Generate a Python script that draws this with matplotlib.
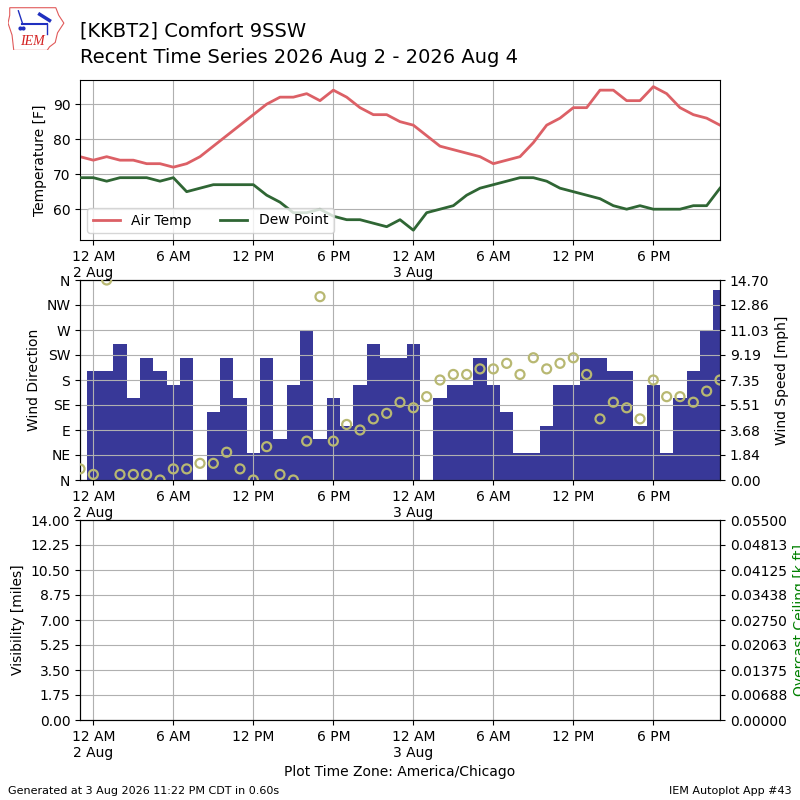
import matplotlib
matplotlib.use("Agg")
import matplotlib.pyplot as plt
import matplotlib.dates as mdates
from matplotlib.ticker import FuncFormatter, FixedLocator
from matplotlib.patches import Polygon
import numpy as np
import pandas as pd
from datetime import datetime
from decimal import Decimal, ROUND_HALF_UP

# ---------------- data ----------------
start = datetime(2026, 8, 1, 23, 0)
times = pd.date_range(start, periods=49, freq="h")

air_temp = [75, 74, 75, 74, 74, 73, 73, 72, 73, 75, 78, 81, 84, 87, 90, 92,
            92, 93, 91, 94, 92, 89, 87, 87, 85,
            84, 81, 78, 77, 76, 75, 73, 74, 75, 79, 84, 86, 89, 89, 94,
            94, 91, 91, 95, 93, 89, 87, 86, 84]
dew_point = [69, 69, 68, 69, 69, 69, 68, 69, 65, 66, 67, 67, 67, 67, 64, 62,
             59, 59, 60, 58, 57, 57, 56, 55, 57,
             54, 59, 60, 61, 64, 66, 67, 68, 69, 69, 68, 66, 65, 64, 63,
             61, 60, 61, 60, 60, 60, 61, 61, 66]
wind_speed = [0, 8, 8, 10, 6, 9, 8, 7, 9, 0, 5, 9, 6, 2, 9, 3,
              7, 11, 3, 6, 4, 7, 10, 9, 9,
              10, 0, 6, 7, 7, 9, 7, 5, 2, 2, 4, 7, 7, 9, 9,
              8, 8, 4, 7, 2, 6, 8, 11, 14]
wind_dir = [20, 10, 360, 10, 10, 10, 0, 20, 20, 30, 30, 50, 20, 0, 60, 10,
            0, 70, 330, 70, 100, 90, 110, 120, 140,
            130, 150, 180, 190, 190, 200, 200, 210, 190, 220, 200, 210, 220, 190, 110,
            140, 130, 110, 180, 150, 150, 140, 160, 180]

dir_labels = ["N", "NE", "E", "SE", "S", "SW", "W", "NW", "N"]
ceiling_labels = ["0.00000", "0.00688", "0.01375", "0.02063", "0.02750",
                  "0.03438", "0.04125", "0.04813", "0.05500"]

# ---------------- styles ----------------
c_temp = "#dc6066"
c_dew = "#2f6634"
c_bar = "#383898"
c_dir = "#b8b872"

fig = plt.figure(figsize=(8, 8), dpi=100)

def fmt_time(x, pos=None):
    d = mdates.num2date(x)
    h = d.hour
    hh = 12 if h % 12 == 0 else h % 12
    s = "%d %s" % (hh, "AM" if h < 12 else "PM")
    if h == 0:
        s += "\n%d %s" % (d.day, d.strftime("%b"))
    return s

def fmt_half_up(v, pos=None):
    return str(Decimal("%.6f" % float(v)).quantize(Decimal("0.01"),
                                                 rounding=ROUND_HALF_UP))

xmin, xmax = mdates.date2num(times[0]), mdates.date2num(times[-1])

def setup_x(ax):
    ax.set_xlim(xmin, xmax)
    ax.xaxis.set_major_locator(mdates.HourLocator(byhour=[0, 6, 12, 18]))
    ax.xaxis.set_major_formatter(FuncFormatter(fmt_time))

# ---- top panel ----
ax1 = fig.add_axes([0.1, 0.7, 0.8, 0.2])
ax1.plot(times, air_temp, color=c_temp, lw=2, label="Air Temp", zorder=2)
ax1.plot(times, dew_point, color=c_dew, lw=2, label="Dew Point", zorder=3)
ax1.set_ylim(51.2, 96.9)
ax1.set_yticks([60, 70, 80, 90])
ax1.set_ylabel("Temperature [F]")
ax1.grid(True)
setup_x(ax1)
ax1.legend(loc="lower left", ncol=2)

# ---- middle panel ----
axd = fig.add_axes([0.1, 0.4, 0.8, 0.25])
axs = axd.twinx()
axs.bar(times, wind_speed, width=1 / 24.0, color=c_bar, zorder=1)
axs.set_ylim(0, 14.7)
axs.set_yticks(np.linspace(0, 14.7, 9))
axs.yaxis.set_major_formatter(FuncFormatter(fmt_half_up))
axs.set_ylabel("Wind Speed [mph]")
axd.set_zorder(axs.get_zorder() + 1)
axd.patch.set_visible(False)
axd.scatter(times, wind_dir, s=42, facecolor="none", edgecolor=c_dir,
            linewidths=1.6, zorder=4)
axd.set_ylim(0, 360)
axd.set_yticks(np.arange(0, 361, 45))
axd.set_yticklabels(dir_labels)
axd.set_ylabel("Wind Direction")
axd.grid(True)
setup_x(axd)
setup_x(axs)

# ---- bottom panel ----
axv = fig.add_axes([0.1, 0.1, 0.8, 0.25])
axv.set_ylim(0, 14)
axv.set_yticks(np.linspace(0, 14, 9))
axv.yaxis.set_major_formatter(FuncFormatter(lambda v, p: "%.2f" % v))
axv.set_ylabel("Visibility [miles]")
axv.grid(True)
setup_x(axv)
axv.set_xlabel("Plot Time Zone: America/Chicago")
axc = axv.twinx()
axc.set_ylim(0, 0.055)
axc.yaxis.set_major_locator(FixedLocator(np.linspace(0, 0.055, 9)))
axc.set_yticklabels(ceiling_labels)
axc.set_ylabel("Overcast Ceiling [k ft]", color="green")
setup_x(axc)

# ---- titles / footer ----
fig.text(0.1, 0.954, "[KKBT2] Comfort 9SSW", fontsize=14, va="baseline")
fig.text(0.1, 0.921, "Recent Time Series 2026 Aug 2 - 2026 Aug 4", fontsize=14,
         va="baseline")
fig.text(0.01, 0.0075, "Generated at 3 Aug 2026 11:22 PM CDT in 0.60s",
         fontsize=8, va="baseline")
fig.text(0.99, 0.0075, "IEM Autoplot App #43", fontsize=8, va="baseline",
         ha="right")

# ---- logo (approximation) ----
axl = fig.add_axes([0.01, 0.937, 0.072, 0.055])
axl.set_xlim(0, 1)
axl.set_ylim(0, 1)
axl.axis("off")
iowa = [(0.03, 0.97), (0.83, 0.97), (0.88, 0.80), (0.97, 0.62), (0.86, 0.40),
        (0.82, 0.18), (0.72, 0.08), (0.68, 0.0), (0.10, 0.0), (0.07, 0.35),
        (0.0, 0.62), (0.03, 0.80)]
axl.add_patch(Polygon(iowa, closed=True, fill=False, edgecolor="#e05a5a", lw=0.8))
axl.text(0.42, 0.06, "IEM", color="#d42020", fontsize=10, style="italic",
         family="Liberation Serif", ha="center", va="bottom")
axl.plot([0.25, 0.68], [0.60, 0.60], color="#1f2fbf", lw=1.5)
axl.plot([0.55, 0.72], [0.82, 0.68], color="#1f2fbf", lw=2.5)
axl.plot([0.18, 0.25], [0.90, 0.62], color="#1f2fbf", lw=1)
axl.plot([0.68, 0.68], [0.60, 0.38], color="#1f2fbf", lw=1)
axl.scatter([0.20, 0.26], [0.52, 0.52], s=4, color="#1f2fbf")

fig.savefig("out.png", dpi=100)
